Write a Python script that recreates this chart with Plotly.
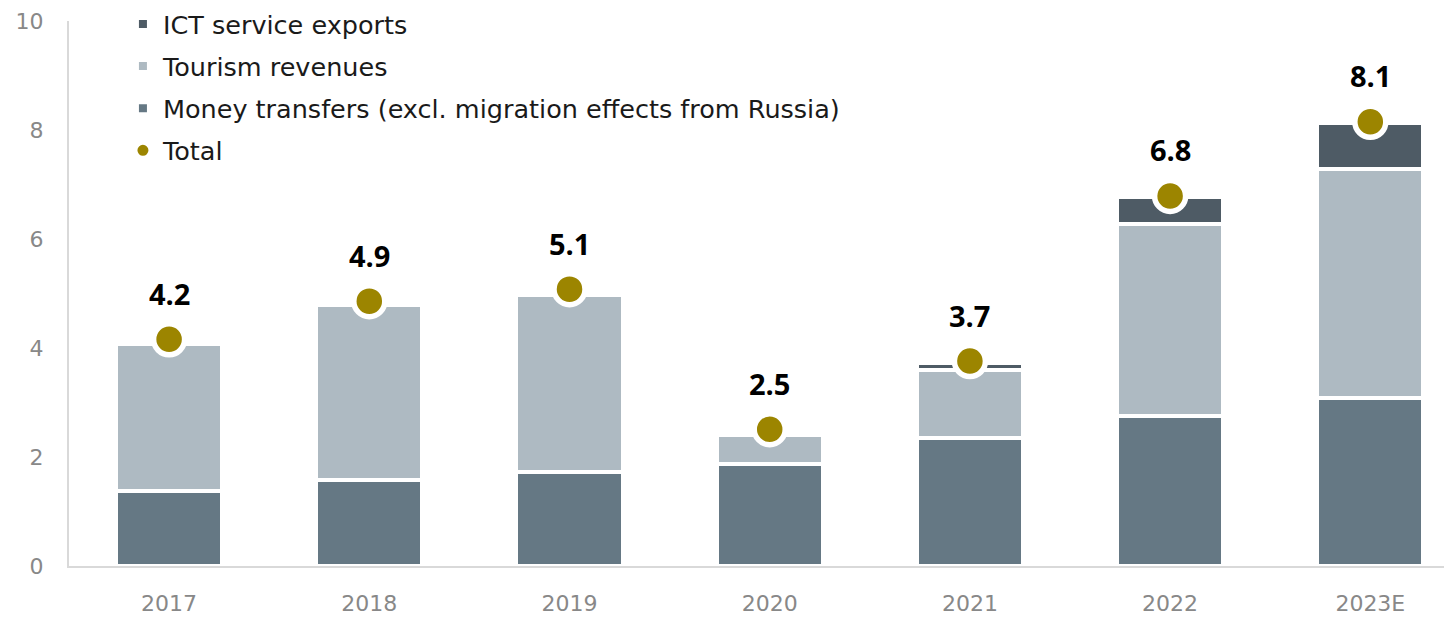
import plotly.graph_objects as go

years = ["2017", "2018", "2019", "2020", "2021", "2022", "2023E"]
money_transfers = [1.37, 1.57, 1.72, 1.87, 2.34, 2.75, 3.08]
tourism = [2.71, 3.22, 3.25, 0.53, 1.26, 3.53, 4.20]
ict = [0.0, 0.0, 0.0, 0.0, 0.12, 0.49, 0.84]
total = [4.16, 4.86, 5.08, 2.51, 3.76, 6.79, 8.15]
total_labels = ["4.2", "4.9", "5.1", "2.5", "3.7", "6.8", "8.1"]

FONT = "Open Sans"
LEG_FONT = "DejaVu Sans"
TICK_FONT = "DejaVu Sans"
C_MONEY = "#657884"
C_TOUR = "#aebac2"
C_ICT = "#4e5b65"
C_DOT = "#9c8500"

fig = go.Figure()
bar_common = dict(width=0.53, marker_line=dict(color="white", width=4))
fig.add_trace(go.Bar(x=years, y=money_transfers, name="Money transfers (excl. migration effects from Russia)",
                     marker_color=C_MONEY, legendrank=3, legendgroup="m", **bar_common))
fig.add_trace(go.Bar(x=years, y=tourism, name="Tourism revenues",
                     marker_color=C_TOUR, legendrank=2, legendgroup="t", **bar_common))
fig.add_trace(go.Bar(x=years, y=ict, name="ICT service exports",
                     marker_color=C_ICT, legendrank=1, legendgroup="i", **bar_common))
fig.add_trace(go.Scatter(x=years, y=total, name="Total", mode="markers",
                         marker=dict(color=C_DOT, size=31, line=dict(color="white", width=5.5)),
                         legendrank=4, legendgroup="z"))

for i, (y, t) in enumerate(zip(total, total_labels)):
    fig.add_annotation(x=i, y=y, text=t, showarrow=False, yshift=46,
                       font=dict(family=FONT, size=29, color="black", weight="bold"))

fig.update_layout(
    width=1444, height=609,
    margin=dict(l=61, r=0, t=13, b=51, autoexpand=False),
    barmode="stack",
    paper_bgcolor="white", plot_bgcolor="white",
    font=dict(family=FONT, color="#222"),
    legend=dict(x=0.039, y=1.037, xref="paper", yref="paper", xanchor="left", yanchor="top",
                font=dict(family=LEG_FONT, size=25.5, color="#1a1a1a"),
                tracegroupgap=6, bgcolor="rgba(0,0,0,0)"),
    xaxis=dict(type="category", range=[-0.5, 6.408], showline=True, linecolor="#d9d9d9", linewidth=2,
               showgrid=False, zeroline=False, ticks="", ticklabelstandoff=17, automargin=False,
               tickfont=dict(family=TICK_FONT, size=22, color="#888888")),
    yaxis=dict(range=[0, 10], tickvals=[0, 2, 4, 6, 8, 10], showline=True,
               linecolor="#d9d9d9", linewidth=2, showgrid=False, zeroline=False,
               ticks="", ticklabelstandoff=19, automargin=False,
               tickfont=dict(family=TICK_FONT, size=22, color="#888888")),
)

fig.write_html("out.html")
